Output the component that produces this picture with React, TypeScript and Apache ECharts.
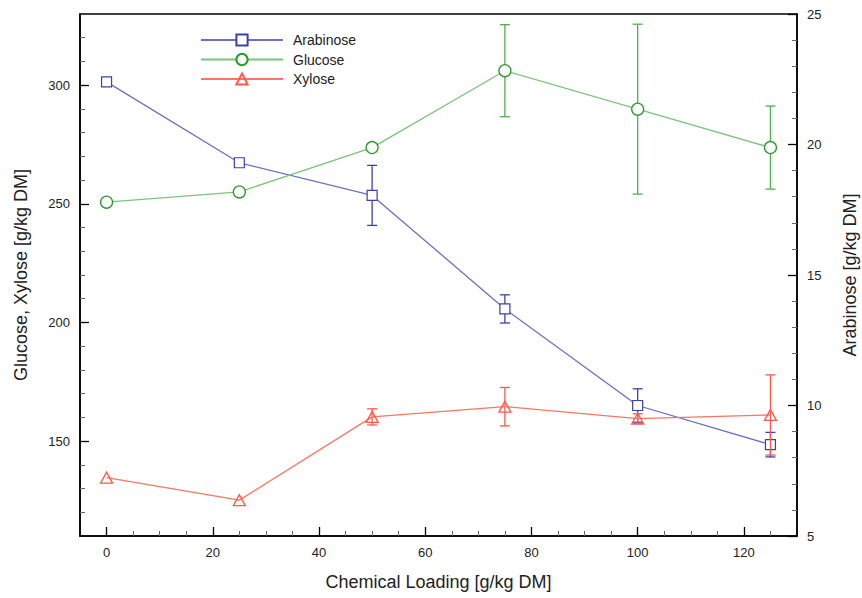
import React, { useEffect, useRef } from "react";
import * as echarts from "echarts";

const loading = [0, 25, 50, 75, 100, 125];
const arabinose = [22.4, 19.3, 18.05, 13.7, 10.0, 8.5];
const arabinoseErr = [0, 0, 1.15, 0.54, 0.64, 0.47];
const glucose = [250.7, 255.0, 273.7, 306.1, 289.9, 273.7];
const glucoseErr = [0, 0, 0, 19.4, 35.8, 17.5];
const xylose = [134.6, 125.1, 160.2, 164.5, 159.5, 161.0];
const xyloseErr = [0, 0, 3.4, 8.1, 2.0, 16.9];

const xMajor = [0, 20, 40, 60, 80, 100, 120];
const xMinor = [5, 10, 15, 25, 30, 35, 45, 50, 55, 65, 70, 75, 85, 90, 95, 105, 110, 115, 125];
const leftMajor = [150, 200, 250, 300];
const leftMinor = [120, 130, 140, 160, 170, 180, 190, 210, 220, 230, 240, 260, 270, 280, 290, 310, 320];

const FONT = "'Liberation Sans', Arial, Helvetica, sans-serif";

const C_ARA_LINE = "#6b70c2";
const C_ARA_MARK = "#3a41ae";
const C_GLU_LINE = "#7cc47c";
const C_GLU_MARK = "#2a9a2a";
const C_GLU_ERR = "#4fb04f";
const C_XYL_LINE = "#ff7563";
const C_XYL_MARK = "#ff5a48";

function errData(vals: number[], errs: number[]) {
  const out: number[][] = [];
  vals.forEach((v, i) => {
    if (errs[i] > 0) out.push([loading[i], v - errs[i], v + errs[i]]);
  });
  return out;
}

function pairs(vals: number[]) {
  return vals.map((v, i) => [loading[i], v]);
}

function makeErr(name: string, data: number[][], yIdx: number, color: string, z: number) {
  return {
    type: "custom",
    name: name + "_err",
    yAxisIndex: yIdx,
    z,
    silent: true,
    data,
    encode: { x: 0, y: [1, 2] },
    renderItem: (params: any, api: any) => {
      const x = api.value(0);
      const lo = api.value(1);
      const hi = api.value(2);
      const p1 = api.coord([x, lo]);
      const p2 = api.coord([x, hi]);
      const w = 5;
      const style = { stroke: color, lineWidth: 1.3, fill: "none" };
      return {
        type: "group",
        children: [
          { type: "line", shape: { x1: p1[0], y1: p1[1], x2: p2[0], y2: p2[1] }, style },
          { type: "line", shape: { x1: p1[0] - w, y1: p1[1], x2: p1[0] + w, y2: p1[1] }, style },
          { type: "line", shape: { x1: p2[0] - w, y1: p2[1], x2: p2[0] + w, y2: p2[1] }, style },
        ],
      };
    },
  };
}

export default function App() {
  const ref = useRef<HTMLDivElement>(null);
  useEffect(() => {
    if (!ref.current) return;
    const chart = echarts.init(ref.current, null, { renderer: "svg" });
    const labelStyle = { color: "#222", fontSize: 13, fontFamily: FONT };
    const nameStyle = { color: "#222", fontSize: 18, fontFamily: FONT };
    const option: any = {
      animation: false,
      backgroundColor: "#fff",
      textStyle: { fontFamily: FONT },
      grid: {
        left: 80,
        right: 65,
        top: 14,
        bottom: 62,
        containLabel: false,
        outerBoundsMode: "none",
        show: true,
        borderColor: "#000",
        borderWidth: 1.5,
        backgroundColor: "transparent",
      },
      legend: {
        data: ["Arabinose", "Glucose", "Xylose"],
        orient: "vertical",
        left: 195,
        top: 28,
        itemWidth: 82,
        itemHeight: 14,
        itemGap: 5.5,
        textStyle: { color: "#222", fontSize: 14, fontFamily: FONT, padding: [0, 0, 0, 5] },
      },
      xAxis: [
        {
          type: "value",
          min: -5,
          max: 130,
          position: "bottom",
          name: "Chemical Loading [g/kg DM]",
          nameLocation: "middle",
          nameGap: 37,
          nameTextStyle: nameStyle,
          axisLine: { show: true, onZero: false, lineStyle: { color: "#000", width: 1.5 } },
          axisTick: { show: true, inside: true, length: 9, customValues: xMajor, lineStyle: { color: "#000", width: 1.3 } },
          axisLabel: { show: true, customValues: xMajor, margin: 10, ...labelStyle },
          splitLine: { show: false },
        },
        {
          type: "value",
          min: -5,
          max: 130,
          position: "bottom",
          axisLine: { show: false, onZero: false },
          axisTick: { show: true, inside: true, length: 5, customValues: xMinor, lineStyle: { color: "#666", width: 1 } },
          axisLabel: { show: false },
          splitLine: { show: false },
        },
      ],
      yAxis: [
        {
          type: "value",
          min: 110,
          max: 330,
          position: "left",
          name: "Glucose, Xylose [g/kg DM]",
          nameLocation: "middle",
          nameGap: 50,
          nameRotate: 90,
          nameTextStyle: nameStyle,
          axisLine: { show: true, onZero: false, lineStyle: { color: "#000", width: 1.5 } },
          axisTick: { show: true, inside: true, length: 9, customValues: leftMajor, lineStyle: { color: "#000", width: 1.3 } },
          axisLabel: { show: true, customValues: leftMajor, margin: 10, ...labelStyle },
          splitLine: { show: false },
        },
        {
          type: "value",
          min: 5,
          max: 25,
          interval: 5,
          position: "right",
          name: "Arabinose [g/kg DM]",
          nameLocation: "middle",
          nameGap: 44,
          nameRotate: 90,
          nameTextStyle: nameStyle,
          axisLine: { show: true, onZero: false, lineStyle: { color: "#000", width: 1.5 } },
          axisTick: { show: true, inside: true, length: 9, lineStyle: { color: "#000", width: 1.3 } },
          minorTick: { show: true, splitNumber: 5, length: 5, lineStyle: { color: "#666", width: 1 } },
          axisLabel: { show: true, margin: 10, ...labelStyle },
          splitLine: { show: false },
          minorSplitLine: { show: false },
        },
        {
          type: "value",
          min: 110,
          max: 330,
          position: "left",
          axisLine: { show: false, onZero: false },
          axisTick: { show: true, inside: true, length: 5, customValues: leftMinor, lineStyle: { color: "#666", width: 1 } },
          axisLabel: { show: false },
          splitLine: { show: false },
        },
      ],
      series: [
        makeErr("Arabinose", errData(arabinose, arabinoseErr), 1, C_ARA_MARK, 1),
        {
          type: "line",
          name: "Arabinose",
          yAxisIndex: 1,
          z: 2,
          data: pairs(arabinose),
          symbol: "rect",
          symbolSize: 10,
          showAllSymbol: true,
          lineStyle: { color: C_ARA_LINE, width: 1.3 },
          itemStyle: { color: "#fff", borderColor: C_ARA_MARK, borderWidth: 1.2 },
        },
        makeErr("Glucose", errData(glucose, glucoseErr), 0, C_GLU_ERR, 3),
        {
          type: "line",
          name: "Glucose",
          yAxisIndex: 0,
          z: 4,
          data: pairs(glucose),
          symbol: "circle",
          symbolSize: 12,
          showAllSymbol: true,
          lineStyle: { color: C_GLU_LINE, width: 1.3 },
          itemStyle: { color: "#fff", borderColor: C_GLU_MARK, borderWidth: 1.3 },
        },
        makeErr("Xylose", errData(xylose, xyloseErr), 0, C_XYL_MARK, 5),
        {
          type: "line",
          name: "Xylose",
          yAxisIndex: 0,
          z: 6,
          data: pairs(xylose),
          symbol: "triangle",
          symbolSize: [12, 11],
          showAllSymbol: true,
          lineStyle: { color: C_XYL_LINE, width: 1.3 },
          itemStyle: { color: "rgba(255,255,255,0)", borderColor: C_XYL_MARK, borderWidth: 1.3 },
        },
      ],
    };
    chart.setOption(option);
    return () => chart.dispose();
  }, []);
  return (
    <div
      ref={ref}
      style={{ position: "fixed", left: 0, top: 0, width: 862, height: 598, background: "#fff" }}
    />
  );
}
